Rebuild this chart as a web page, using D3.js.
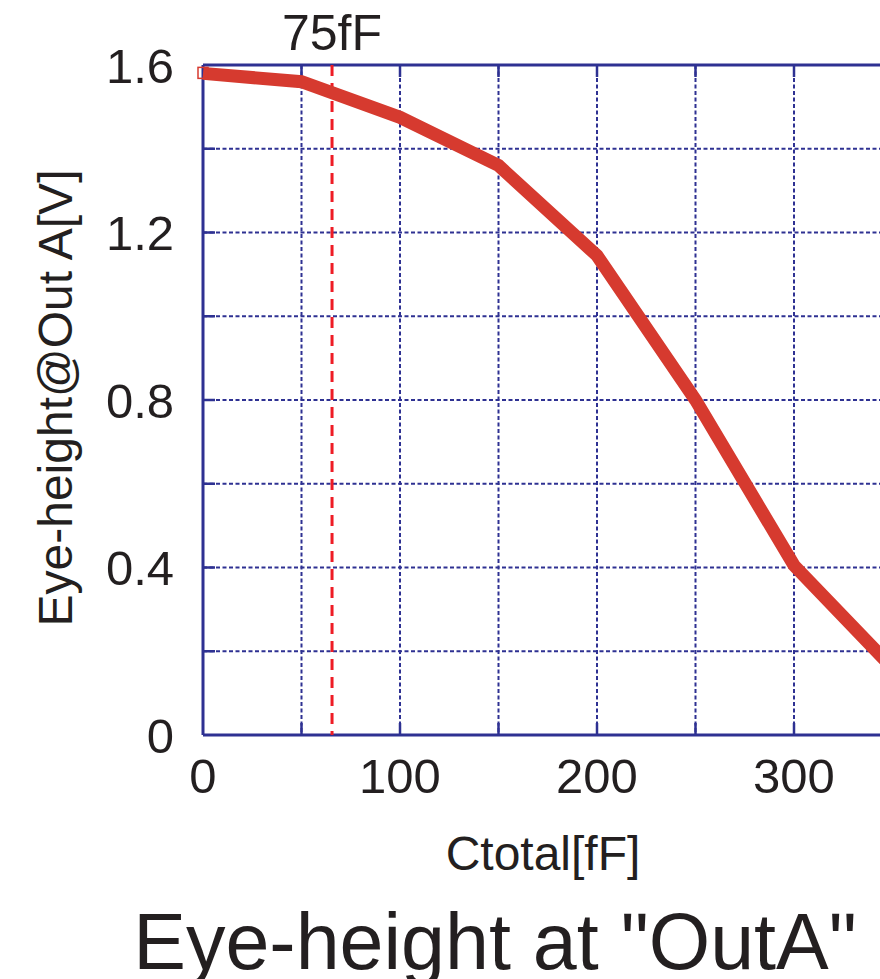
<!DOCTYPE html>
<html>
<head>
<meta charset="utf-8">
<script src="https://cdn.jsdelivr.net/npm/d3@7"></script>
<style>
  body { margin: 0; background: #fff; }
  svg { display: block; }
  text { font-family: "Liberation Sans", Arial, sans-serif; fill: #231f20; }
</style>
</head>
<body>
<div id="chart"></div>
<script>
// capacitance (fF) vs eye height (V)
const ctotal = [0, 50, 100, 150, 200, 250, 300, 350];
const eyeHeight = [1.58, 1.56, 1.475, 1.36, 1.145, 0.80, 0.405, 0.16];
const xTickLabels = [0, 100, 200, 300];
const yTickLabels = [0, 0.4, 0.8, 1.2, 1.6];
const markerValue = [65.5];
const markerLabel = ['75fF'];

const W = 880, H = 979;
const svg = d3.select('#chart').append('svg')
  .attr('width', W).attr('height', H);

const x = d3.scaleLinear().domain([0, 350]).range([203, 203 + 350 * 1.97]);
const y = d3.scaleLinear().domain([0, 1.6]).range([735, 65]);

const blue = '#2e3192';
const grid = svg.append('g').attr('class', 'grid');

// dotted grid
grid.selectAll('.vgrid').data(d3.range(50, 351, 50)).enter().append('line')
  .attr('x1', d => x(d)).attr('x2', d => x(d))
  .attr('y1', y(1.6)).attr('y2', y(0))
  .style('stroke', blue).style('stroke-width', 2).style('stroke-dasharray', '4,2.5');
grid.selectAll('.hgrid').data(d3.range(0.2, 1.59, 0.2)).enter().append('line')
  .attr('x1', x(0)).attr('x2', x(350))
  .attr('y1', d => y(d)).attr('y2', d => y(d))
  .style('stroke', blue).style('stroke-width', 2).style('stroke-dasharray', '4,2.5');

// inner tick marks
grid.selectAll('.btick').data(d3.range(50, 351, 50)).enter().append('line')
  .attr('x1', d => x(d)).attr('x2', d => x(d))
  .attr('y1', y(0)).attr('y2', y(0) - 12)
  .style('stroke', blue).style('stroke-width', 2.5);
grid.selectAll('.ttick').data(d3.range(50, 351, 50)).enter().append('line')
  .attr('x1', d => x(d)).attr('x2', d => x(d))
  .attr('y1', y(1.6)).attr('y2', y(1.6) + 12)
  .style('stroke', blue).style('stroke-width', 2.5);
grid.selectAll('.ltick').data(d3.range(0.2, 1.59, 0.2)).enter().append('line')
  .attr('x1', x(0)).attr('x2', x(0) + 12)
  .attr('y1', d => y(d)).attr('y2', d => y(d))
  .style('stroke', blue).style('stroke-width', 2.5);

// frame
grid.append('line').attr('x1', x(0)).attr('x2', x(350)).attr('y1', y(0)).attr('y2', y(0))
  .style('stroke', blue).style('stroke-width', 3);
grid.append('line').attr('x1', x(0)).attr('x2', x(350)).attr('y1', y(1.6)).attr('y2', y(1.6))
  .style('stroke', blue).style('stroke-width', 3);
grid.append('line').attr('x1', x(0)).attr('x2', x(0)).attr('y1', y(0)).attr('y2', y(1.6))
  .style('stroke', blue).style('stroke-width', 3);

// 75fF marker
svg.selectAll('.marker').data(markerValue).enter().append('line')
  .attr('x1', d => x(d)).attr('x2', d => x(d))
  .attr('y1', y(1.6)).attr('y2', y(0))
  .style('stroke', '#ee1c25').style('stroke-width', 3).style('stroke-dasharray', '11,7');
svg.selectAll('.markerLabel').data(markerLabel).enter().append('text')
  .attr('x', x(markerValue[0])).attr('y', 50)
  .attr('text-anchor', 'middle').style('font-size', '50px')
  .text(d => d);

// data line
const pts = ctotal.map((c, i) => [c, eyeHeight[i]]);
svg.append('path').datum(pts)
  .attr('d', d3.line().x(d => x(d[0])).y(d => y(d[1])))
  .style('fill', 'none').style('stroke', '#d63a2f').style('stroke-width', 13)
  .style('stroke-linejoin', 'miter');
svg.append('rect')
  .attr('x', x(ctotal[0]) - 5).attr('y', y(eyeHeight[0]) - 6)
  .attr('width', 10).attr('height', 11)
  .style('fill', 'none').style('stroke', '#d63a2f').style('stroke-width', 1.5);

// tick labels
svg.selectAll('.xl').data(xTickLabels).enter().append('text')
  .attr('x', d => x(d)).attr('y', 793)
  .attr('text-anchor', 'middle').style('font-size', '49px')
  .text(d => d);
svg.selectAll('.yl').data(yTickLabels).enter().append('text')
  .attr('x', 174).attr('y', d => y(d)).attr('dy', '0.36em')
  .attr('text-anchor', 'end').style('font-size', '49px')
  .text(d => d === 0 ? '0' : d3.format('.1f')(d));

// axis titles
svg.append('text').attr('x', 543).attr('y', 870)
  .attr('text-anchor', 'middle').style('font-size', '48px')
  .text('Ctotal[fF]');
svg.append('text')
  .attr('transform', 'translate(72, 398) rotate(-90)')
  .attr('text-anchor', 'middle').style('font-size', '48px')
  .text('Eye-height@Out A[V]');

// caption
svg.append('text').attr('x', 495).attr('y', 969)
  .attr('text-anchor', 'middle').style('font-size', '79px')
  .text('Eye-height at "OutA"');
</script>
</body>
</html>
